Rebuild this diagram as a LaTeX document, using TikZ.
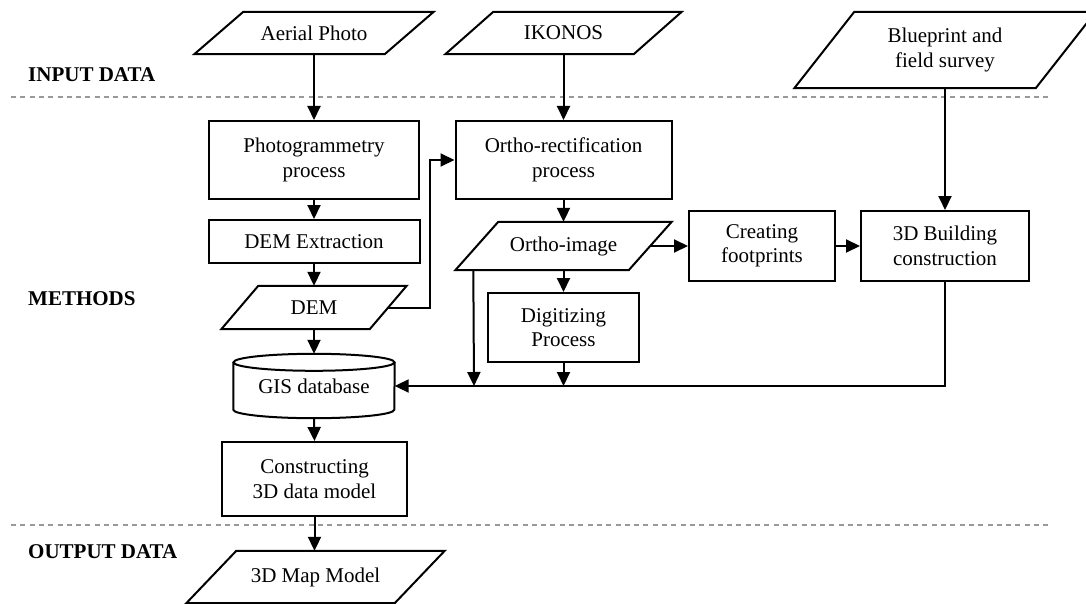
\documentclass[tikz,border=0pt]{standalone}
\usepackage{fontspec}
\setmainfont{Liberation Serif}
\usetikzlibrary{arrows.meta,calc}
\newcommand\paral[2]{\draw[line width=2pt] (#1.south west) -- ($(#1.north west)+(#2,0)$) -- (#1.north east) -- ($(#1.south east)-(#2,0)$) -- cycle;}
\begin{document}
\begin{tikzpicture}[x=1pt,y=-1pt,
  every node/.style={font=\fontsize{21}{24.5}\selectfont, align=center, inner sep=0pt},
  procbox/.style 2 args={draw, line width=2pt, minimum width=#1, minimum height=#2},
  io/.style 2 args={minimum width=#1, minimum height=#2},
  arr/.style={line width=2pt, -{Triangle[length=14pt,width=13pt]}},
  sep/.style={draw=black!40, line width=1.2pt, dash pattern=on 5pt off 4.3pt},
  lab/.style={anchor=base west, font=\bfseries\fontsize{21}{24.5}\selectfont}
]
\useasboundingbox (0,0) rectangle (1086,604);

% separators
\draw[sep] (11,97) -- (1052,97);
\draw[sep] (11,525) -- (1052,525);

% section labels
\node[lab] (lin) at (28,81.7) {INPUT DATA};
\node[lab] (lme) at (28,305) {METHODS};
\node[lab] (lou) at (28,558) {OUTPUT DATA};

% nodes
\node[io={239pt}{42pt}] (aer) at (314,33) {Aerial Photo};
\node[io={236pt}{42pt}] (iko) at (563.5,33) {IKONOS};
\node[io={301pt}{76pt}] (blue) at (945,50) {Blueprint and\\field survey};
\node[procbox={210pt}{78pt}] (photo) at (314,160) {Photogrammetry\\process};
\node[procbox={216pt}{78pt}] (ortho) at (563.5,160) {Ortho-rectification\\process};
\node[procbox={211pt}{43pt}] (demx) at (314,241.5) {DEM Extraction};
\node[io={185pt}{43pt}] (dem) at (314,307.5) {DEM};
\node[io={216pt}{48pt}] (oimg) at (563.5,246) {Ortho-image};
\node[procbox={146pt}{70pt}] (foot) at (762,246) {Creating\\footprints};
\node[procbox={168pt}{70pt}] (bld) at (945,246) {3D Building\\construction};
\node[procbox={151pt}{69pt}] (digi) at (563.5,327.5) {Digitizing\\Process};
\node[io={161pt}{64pt}] (gis) at (314,386) {\raisebox{-3.5pt}{GIS database}};
\node[procbox={185pt}{74pt}] (cons) at (314.5,479) {Constructing\\3D data model};
\node[io={258pt}{52pt}] (map) at (315.5,577) {3D Map Model};

% parallelogram outlines
\paral{aer}{49}
\paral{iko}{48}
\paral{blue}{60}
\paral{dem}{37}
\paral{oimg}{43}
\paral{map}{50}

% cylinder outline
\draw[line width=2pt] ($(gis.north)+(0,8.5)$) ellipse [x radius=80.5pt, y radius=8.5pt];
\draw[line width=2pt] ($(gis.north west)+(0,8.5)$) -- ($(gis.south west)+(0,-8.5)$)
  arc[start angle=180, end angle=360, x radius=80.5pt, y radius=8.5pt] -- ($(gis.north east)+(0,8.5)$);

% junctions
\coordinate (j1) at (430,160);
\coordinate (j2) at (474,386);
\coordinate (j3) at (563.5,386);
\coordinate (j4) at (945,386);

% connectors
\draw[arr] (aer.south) -- (photo.north);
\draw[arr] (iko.south) -- (ortho.north);
\draw[arr] (blue.south) -- (bld.north);
\draw[arr] (photo.south) -- (demx.north);
\draw[arr] (demx.south) -- (dem.north);
\draw[arr] ($(dem.east)-(18.5,0)$) -| (j1) -- (ortho.west);
\draw[arr] (dem.south) -- (gis.north);
\draw[arr] (ortho.south) -- (oimg.north);
\draw[arr] ($(oimg.east)-(21.5,0)$) -- (foot.west);
\draw[arr] (foot.east) -- (bld.west);
\draw[arr] (oimg.south) -- (digi.north);
\draw[arr] ($(oimg.south west)+(18,0)$) -- (j2);
\draw[arr] (digi.south) -- (j3);
\draw[arr] (bld.south) -- (j4) -- (gis.east);
\draw[arr] (gis.south) -- (cons.north);
\draw[arr] (cons.south) -- (cons.south |- map.north);
\end{tikzpicture}
\end{document}
